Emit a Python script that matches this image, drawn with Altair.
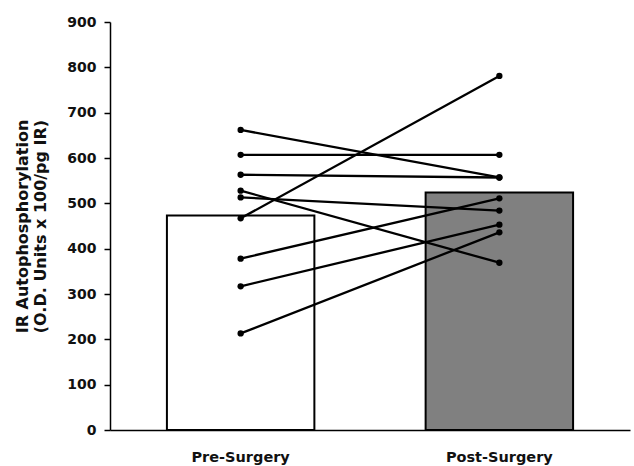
import altair as alt
import pandas as pd

groups = ["Pre-Surgery", "Post-Surgery"]
bar_means = [473, 524]
pre_values = [662, 607, 563, 528, 513, 467, 378, 317, 213]
post_values = [557, 607, 557, 369, 484, 781, 511, 453, 436]
y_ticks = [0, 100, 200, 300, 400, 500, 600, 700, 800, 900]

bars_df = pd.DataFrame({"group": groups, "value": bar_means,
                        "fill": ["white", "gray"]})
rows = []
for i, (a, b) in enumerate(zip(pre_values, post_values)):
    rows.append({"subject": i, "group": groups[0], "value": a})
    rows.append({"subject": i, "group": groups[1], "value": b})
pts_df = pd.DataFrame(rows)

font = "DejaVu Sans"
x_enc = alt.X("group:N", sort=groups,
              scale=alt.Scale(paddingInner=0.43, paddingOuter=0.22),
              axis=alt.Axis(title=None, labelAngle=0, ticks=False,
                            labelFont=font, labelFontWeight="bold",
                            labelFontSize=14.5, labelColor="#111",
                            labelPadding=20, domainColor="black",
                            domainWidth=1.5))
y_enc = alt.Y("value:Q", scale=alt.Scale(domain=[0, 900], nice=False),
              axis=alt.Axis(values=y_ticks, grid=False,
                            title=["IR Autophosphorylation",
                                   "(O.D. Units x 100/pg IR)"],
                            titleFont=font, titleFontWeight="bold",
                            titleFontSize=16, titleColor="#111",
                            titlePadding=18, titleLineHeight=18,
                            labelFont=font, labelFontWeight="bold",
                            labelFontSize=14, labelColor="#111",
                            labelPadding=8, tickSize=6, tickColor="black",
                            tickWidth=1.5, domainColor="black",
                            domainWidth=1.5))

bars = alt.Chart(bars_df).mark_bar(stroke="black", strokeWidth=2).encode(
    x=x_enc, y=y_enc,
    fill=alt.Fill("fill:N", scale=None),
)

lines = alt.Chart(pts_df).mark_line(color="black", strokeWidth=2.3).encode(
    x=alt.X("group:N", sort=groups),
    y="value:Q",
    detail="subject:N",
)
points = alt.Chart(pts_df).mark_circle(color="black", size=40, opacity=1).encode(
    x=alt.X("group:N", sort=groups),
    y="value:Q",
)

chart = alt.layer(bars, lines, points).properties(
    width=520, height=408,
    autosize=alt.AutoSizeParams(type="none"),
    padding={"left": 110, "top": 22, "right": 4, "bottom": 36},
    background="white",
).configure_view(stroke=None)

chart.save("out.html", embed_options={"renderer": "svg", "actions": False})
